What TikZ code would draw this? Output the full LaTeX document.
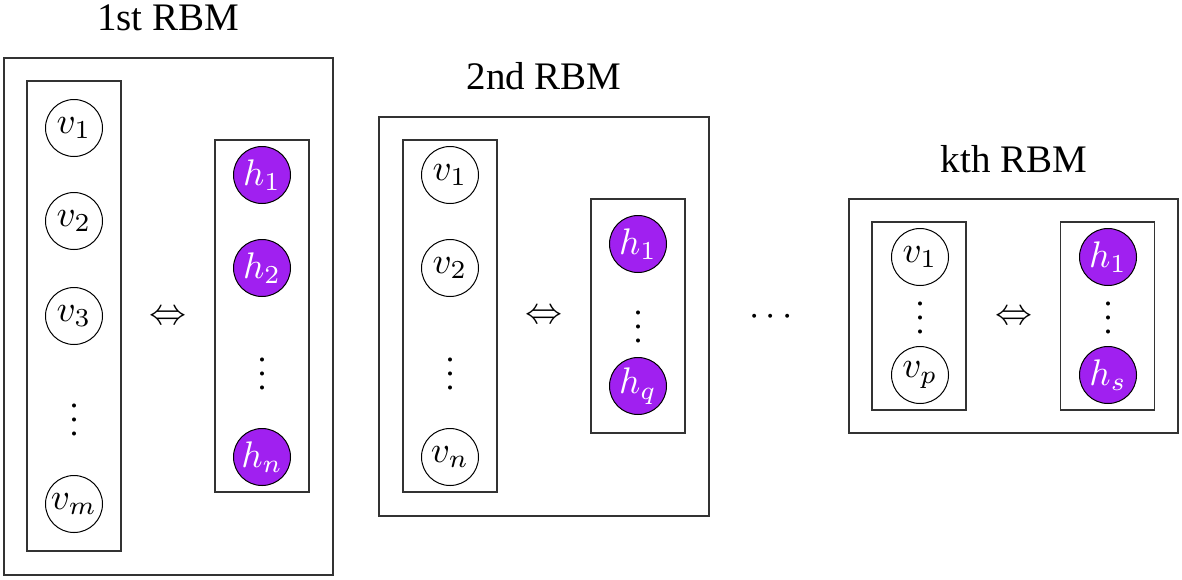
\documentclass[tikz,border=0pt]{standalone}
\usepackage{fontspec}
\setmainfont{Liberation Serif}
\usepackage{amsmath}
\definecolor{hpurple}{RGB}{160,32,240}
\newcommand{\rbmmath}[1]{\scalebox{1.85}{$#1$}}
\makeatletter
\newcommand{\rbmvdots}{\scalebox{1.7}{\vbox{\baselineskip4\p@\lineskiplimit\z@\hbox{.}\hbox{.}\hbox{.}}}}
\makeatother
\begin{document}
\begin{tikzpicture}[x=0.5pt,y=-0.5pt,
  vis/.style={circle,draw=black,line width=0.5pt,minimum size=28.5pt,inner sep=0pt},
  hid/.style={circle,draw=black,fill=hpurple,text=white,line width=0.5pt,minimum size=28.5pt,inner sep=0pt},
  outerbox/.style={rectangle,draw=black!80,line width=0.75pt,inner sep=0pt},
  innerbox/.style={rectangle,draw=black!80,line width=0.65pt,inner sep=0pt},
  title/.style={font=\fontsize{19.5}{23}\selectfont,inner sep=0pt,anchor=base},
  sym/.style={inner sep=0pt,anchor=base}]
\useasboundingbox (0,0) rectangle (1182,579);
% ---- 1st RBM
\node[title] (t1) at (168,30) {1st RBM};
\node[outerbox,minimum width=329*0.5pt,minimum height=517*0.5pt] (o1) at (168.5,316.5) {};
\node[innerbox,minimum width=94*0.5pt,minimum height=470*0.5pt] (v1box) at (74,316) {};
\node[innerbox,minimum width=94*0.5pt,minimum height=352*0.5pt] (h1box) at (262,316) {};
\node[vis] (a1) at (74,128) {\rbmmath{v_1}};
\node[vis] (a2) at (74,221) {\rbmmath{v_2}};
\node[vis] (a3) at (74,316) {\rbmmath{v_3}};
\node[sym] (ad) at (74,435) {\rbmvdots};
\node[vis] (am) at (74,504) {\rbmmath{v_m}};
\node[hid] (b1) at (262,175) {\rbmmath{h_1}};
\node[hid] (b2) at (262,268) {\rbmmath{h_2}};
\node[sym] (bd) at (262,389) {\rbmvdots};
\node[hid] (bn) at (262,457) {\rbmmath{h_n}};
\node[sym] (e1) at (168,324) {\rbmmath{\Leftrightarrow}};
% ---- 2nd RBM
\node[title] (t2) at (544,89) {2nd RBM};
\node[outerbox,minimum width=330*0.5pt,minimum height=399*0.5pt] (o2) at (544,316.5) {};
\node[innerbox,minimum width=94*0.5pt,minimum height=352*0.5pt] (v2box) at (450,316) {};
\node[innerbox,minimum width=94*0.5pt,minimum height=234*0.5pt] (h2box) at (638,316) {};
\node[vis] (c1) at (450,175) {\rbmmath{v_1}};
\node[vis] (c2) at (450,268) {\rbmmath{v_2}};
\node[sym] (cd) at (450,389) {\rbmvdots};
\node[vis] (cn) at (450,457) {\rbmmath{v_n}};
\node[hid] (d1) at (638,244) {\rbmmath{h_1}};
\node[sym] (dd) at (638,342) {\rbmvdots};
\node[hid] (dq) at (638,386) {\rbmmath{h_q}};
\node[sym] (e2) at (544,323) {\rbmmath{\Leftrightarrow}};
% ---- dots between
\node[sym] (mid) at (774,325) {\rbmmath{\cdots}};
% ---- kth RBM
\node[title] (t3) at (1014,172) {kth RBM};
\node[outerbox,minimum width=329*0.5pt,minimum height=234*0.5pt] (o3) at (1013.5,316) {};
\node[innerbox,minimum width=94*0.5pt,minimum height=188*0.5pt] (v3box) at (919,316) {};
\node[innerbox,minimum width=94*0.5pt,minimum height=188*0.5pt] (h3box) at (1107.5,316) {};
\node[vis] (f1) at (920,257) {\rbmmath{v_1}};
\node[sym] (fd) at (920,333) {\rbmvdots};
\node[vis] (fp) at (920,375) {\rbmmath{v_p}};
\node[hid] (g1) at (1108,257) {\rbmmath{h_1}};
\node[sym] (gd) at (1108,333) {\rbmvdots};
\node[hid] (gs) at (1108,375) {\rbmmath{h_s}};
\node[sym] (e3) at (1014,324) {\rbmmath{\Leftrightarrow}};
\end{tikzpicture}
\end{document}
